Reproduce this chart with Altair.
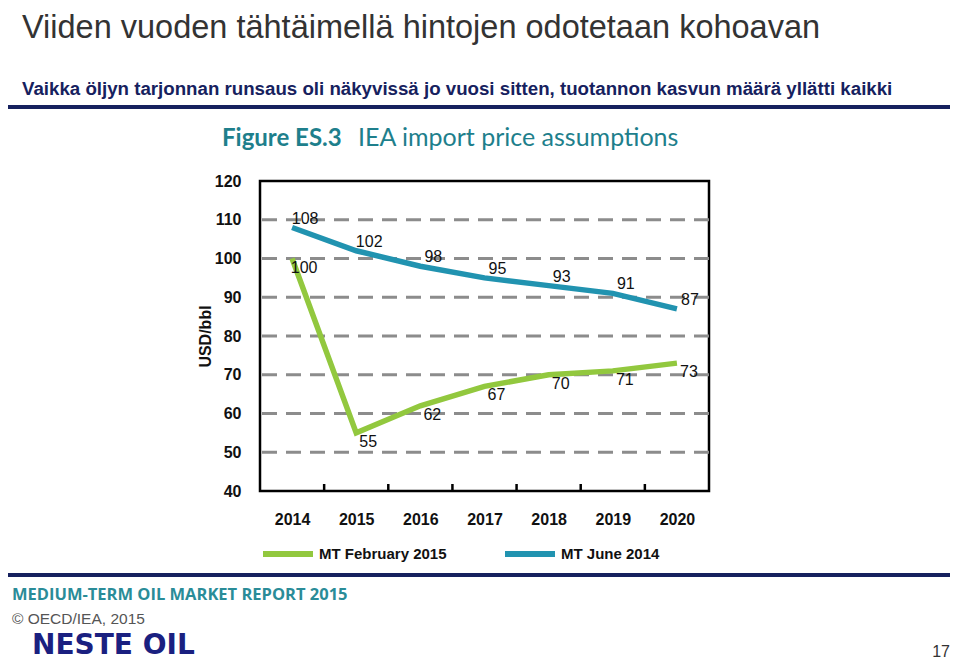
import altair as alt
import pandas as pd

years = [2014, 2015, 2016, 2017, 2018, 2019, 2020]
feb2015 = [100, 55, 62, 67, 70, 71, 73]
jun2014 = [108, 102, 98, 95, 93, 91, 87]
series_names = ["MT February 2015", "MT June 2014"]
series_colors = ["#92C83E", "#2193B0"]
y_ticks = [40, 50, 60, 70, 80, 90, 100, 110, 120]
grid_values = [50, 60, 70, 80, 90, 100, 110]
x_tick_marks = [2014.5, 2015.5, 2016.5, 2017.5, 2018.5, 2019.5]

slide_title = "Viiden vuoden tähtäimellä hintojen odotetaan kohoavan"
slide_subtitle = "Vaikka öljyn tarjonnan runsaus oli näkyvissä jo vuosi sitten, tuotannon kasvun määrä yllätti kaikki"
fig_bold = "Figure ES.3"
fig_rest = "IEA import price assumptions"
footer_report = "MEDIUM-TERM OIL MARKET REPORT 2015"
footer_copy = "© OECD/IEA, 2015"
logo_text = "NESTE OIL"
page_no = "17"

SANS = "Liberation Sans, Arial, sans-serif"
NAVY = "#16215E"
TEAL = "#1E7F8C"

df = pd.DataFrame({
    "year": years * 2,
    "value": feb2015 + jun2014,
    "series": [series_names[0]] * len(years) + [series_names[1]] * len(years),
})

W, H = 449, 310

x_enc = alt.X("year:Q",
              scale=alt.Scale(domain=[2013.5, 2020.5], nice=False, zero=False),
              axis=alt.Axis(values=years, format="d", ticks=False, domain=False, grid=False,
                            labelPadding=20, labelFontSize=16, labelFont=SANS, labelFontWeight="bold",
                            labelColor="#111", title=None))
y_enc = alt.Y("value:Q",
              scale=alt.Scale(domain=[40, 120], nice=False, zero=False),
              axis=alt.Axis(values=y_ticks, ticks=False, domain=False, grid=False,
                            labelPadding=19, labelFontSize=16, labelFont=SANS, labelFontWeight="bold",
                            labelColor="#111", title="USD/bbl", titleFont=SANS, titleFontSize=16,
                            titleFontWeight="bold", titleColor="#111", titlePadding=1))

grid = alt.Chart(pd.DataFrame({"value": grid_values})).mark_rule(
    strokeDash=[15, 9], strokeWidth=3, color="#8C8C8C").encode(y=y_enc)

xticks = alt.Chart(pd.DataFrame({"year": x_tick_marks})).mark_rule(
    strokeWidth=2.5, color="black").encode(x=x_enc, y=alt.value(H), y2=alt.value(H - 7))

lines = alt.Chart(df).mark_line(strokeWidth=5.5).encode(
    x=x_enc, y=y_enc,
    color=alt.Color("series:N",
                    scale=alt.Scale(domain=series_names, range=series_colors),
                    sort=series_names,
                    legend=alt.Legend(orient="none", legendX=0, legendY=345, direction="horizontal",
                                      title=None, symbolType="stroke", symbolSize=2500,
                                      symbolStrokeWidth=6, labelFontSize=15, labelFont=SANS,
                                      labelFontWeight="bold", labelColor="#111", labelLimit=300,
                                      columnPadding=46, labelOffset=3)))

lab_g = alt.Chart(df[df.series == series_names[0]]).mark_text(
    dx=12, dy=9, fontSize=16, font=SANS, color="#111").encode(x=x_enc, y=y_enc, text="value:Q")
lab_b = alt.Chart(df[df.series == series_names[1]]).mark_text(
    dx=13, dy=-9, fontSize=16, font=SANS, color="#111").encode(x=x_enc, y=y_enc, text="value:Q")


def txt(s, x, y, align="left", **kw):
    return alt.Chart(pd.DataFrame({"t": [s]})).mark_text(align=align, baseline="alphabetic", **kw).encode(
        text="t:N", x=alt.value(x), y=alt.value(y))


def band(y, x1, x2, w=4):
    return alt.Chart(pd.DataFrame({"a": [0]})).mark_rule(color=NAVY, strokeWidth=w).encode(
        x=alt.value(x1), x2=alt.value(x2), y=alt.value(y))


decor = [
    txt(slide_title, -238, -143, fontSize=32.5, font=SANS, color="#333333"),
    txt(slide_subtitle, -238, -86, fontSize=18.7, fontWeight="bold", font=SANS, color=NAVY),
    band(-74, -252, 690),
    txt(fig_bold, -38, -35, fontSize=24, fontWeight="bold", font="Lato, Open Sans, sans-serif", color=TEAL),
    txt(fig_rest, 98, -35, fontSize=25, font="Lato, Open Sans, sans-serif", color=TEAL),
    band(394, -252, 690),
    txt(footer_report, -248, 419, fontSize=16.5, fontWeight="bold", font="Open Sans, sans-serif", color="#2A8C98"),
    txt(footer_copy, -248, 443, fontSize=15.5, font=SANS, color="#555555"),
    txt(logo_text, -228, 473, fontSize=28, fontWeight="bold", font="DejaVu Sans, sans-serif", color="#1A2080"),
    txt(page_no, 690, 476, align="right", fontSize=16, font=SANS, color="#333333"),
]

chart = alt.layer(grid, xticks, lines, lab_g, lab_b, *decor).properties(
    width=W, height=H,
    padding={"left": 252, "top": 173, "right": 243, "bottom": 170},
    autosize=alt.AutoSizeParams(type="none"),
    background="white",
).configure_view(stroke="black", strokeWidth=2.5)

chart.save("out.html", embed_options={"renderer": "svg", "actions": False})
